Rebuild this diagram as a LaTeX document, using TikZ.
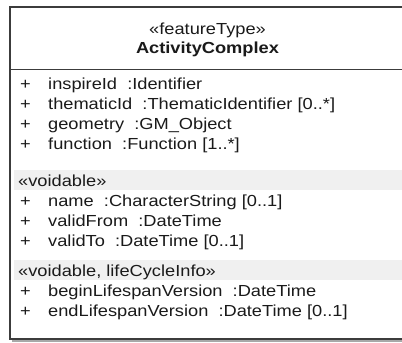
\documentclass[tikz,border=0pt]{standalone}
\usepackage{fontspec}
\setmainfont{Liberation Sans}
\usepackage{graphicx}
\definecolor{umlline}{HTML}{3C3C3C}
\definecolor{umlband}{HTML}{F0F0F0}
\definecolor{umltext}{HTML}{1A1A1A}
\definecolor{umlshadow}{HTML}{A8A8A8}
% class box text is set slightly wide
\newcommand{\widetxt}[1]{\scalebox{1.14}[1]{#1}}

\begin{document}
\begin{tikzpicture}[x=1pt,y=-1pt,
  umltxt/.style={inner sep=0pt, font=\fontsize{16}{19}\selectfont, text=umltext},
  vis/.style={umltxt, anchor=base west},
  attr/.style={umltxt, anchor=base west},
  stereo/.style={umltxt, anchor=base west},
  title/.style={umltxt, anchor=base},
  frame/.style={draw=umlline, line width=1.5pt}]
\useasboundingbox (0,0) rectangle (402,343);

% drop shadow and class body
\fill[umlshadow] (12,10) rectangle (408,342);
\fill[white] (10,7) rectangle (405,339);

% stereotype compartment bands
\fill[umlband] (14,170) rectangle (405,190);
\fill[umlband] (14,260) rectangle (405,280);

% outline and header divider
\draw[frame] (10,7) rectangle (405,339);
\coordinate (divL) at (10,69.5);
\coordinate (divR) at (405,69.5);
\draw[frame] (divL) -- (divR);

% header
\node[title] (stype) at (207.5,34) {\widetxt{«featureType»}};
\node[title] (cname) at (207.5,53) {\widetxt{\bfseries ActivityComplex}};

% attributes
\node[vis] (v1) at (20,89) {\widetxt{+}};
\node[attr] (a1) at (48,89) {\widetxt{inspireId\ \ :Identifier}};
\node[vis] (v2) at (20,109) {\widetxt{+}};
\node[attr] (a2) at (48,109) {\widetxt{thematicId\ \ :ThematicIdentifier [0..*]}};
\node[vis] (v3) at (20,129) {\widetxt{+}};
\node[attr] (a3) at (48,129) {\widetxt{geometry\ \ :GM\_Object}};
\node[vis] (v4) at (20,149) {\widetxt{+}};
\node[attr] (a4) at (48,149) {\widetxt{function\ \ :Function [1..*]}};

\node[stereo] (s1) at (18,186) {\widetxt{«voidable»}};
\node[vis] (v5) at (20,206) {\widetxt{+}};
\node[attr] (a5) at (48,206) {\widetxt{name\ \ :CharacterString [0..1]}};
\node[vis] (v6) at (20,226) {\widetxt{+}};
\node[attr] (a6) at (48,226) {\widetxt{validFrom\ \ :DateTime}};
\node[vis] (v7) at (20,246) {\widetxt{+}};
\node[attr] (a7) at (48,246) {\widetxt{validTo\ \ :DateTime [0..1]}};

\node[stereo] (s2) at (18,276) {\widetxt{«voidable, lifeCycleInfo»}};
\node[vis] (v8) at (20,296) {\widetxt{+}};
\node[attr] (a8) at (48,296) {\widetxt{beginLifespanVersion\ \ :DateTime}};
\node[vis] (v9) at (20,316) {\widetxt{+}};
\node[attr] (a9) at (48,316) {\widetxt{endLifespanVersion\ \ :DateTime [0..1]}};
\end{tikzpicture}
\end{document}
